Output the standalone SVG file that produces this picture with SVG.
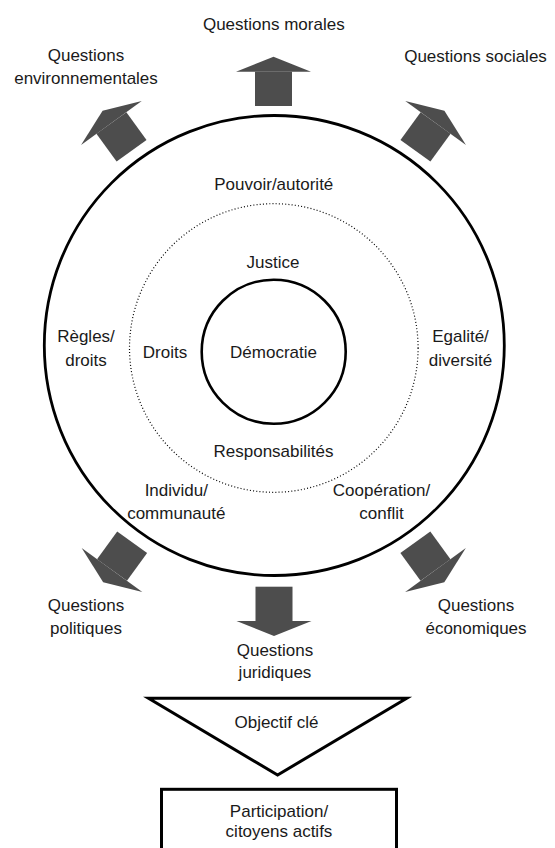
<svg xmlns="http://www.w3.org/2000/svg" xmlns:xlink="http://www.w3.org/1999/xlink" width="555" height="848" viewBox="0 0 555 848">
<style>
  text { font-family: "Liberation Sans", Arial, sans-serif; font-size: 17px; fill: #1a1a1a; text-anchor: middle; }
  .ring { fill: none; stroke: #000; }
  .arrow-head, .arrow-shaft { fill: #4d4d4d; }
  .frame { fill: #fff; stroke: #000; stroke-width: 3; }
</style>
<defs>
  <g id="arrow">
    <polygon class="arrow-head" points="-37.5,0 37.5,0 0,-15"/>
    <rect class="arrow-shaft" x="-18.5" y="0" width="37" height="34.3"/>
  </g>
</defs>
<rect width="555" height="848" fill="#fff"/>

<g id="rings">
  <circle id="outer-ring" class="ring" cx="274.3" cy="345.5" r="230" stroke-width="2.8"/>
  <circle id="middle-ring" class="ring" cx="273.8" cy="348" r="144.3" stroke-width="1.2" stroke-dasharray="1 2.2" stroke="#333"/>
  <circle id="inner-ring" class="ring" cx="273.7" cy="351.7" r="72" stroke-width="2.6"/>
</g>

<g id="connectors">
  <use xlink:href="#arrow" href="#arrow" transform="translate(273.5,71.7)"/>
  <use xlink:href="#arrow" href="#arrow" transform="translate(111.4,123) rotate(-36)"/>
  <use xlink:href="#arrow" href="#arrow" transform="translate(435.6,123) rotate(36)"/>
  <use xlink:href="#arrow" href="#arrow" transform="translate(274,621) rotate(180)"/>
  <use xlink:href="#arrow" href="#arrow" transform="translate(112,570) rotate(-144)"/>
  <use xlink:href="#arrow" href="#arrow" transform="translate(435.5,570) rotate(144)"/>
</g>

<g id="n-morales"><text x="273.8" y="30">Questions morales</text></g>
<g id="n-environnementales"><text x="86" y="60.5">Questions</text><text x="86" y="84">environnementales</text></g>
<g id="n-sociales"><text x="475.5" y="61.5">Questions sociales</text></g>
<g id="n-pouvoir"><text x="273.8" y="190">Pouvoir/autorité</text></g>
<g id="n-justice"><text x="273" y="268">Justice</text></g>
<g id="n-regles"><text x="86" y="342.3">Règles/</text><text x="86" y="366">droits</text></g>
<g id="n-droits"><text x="165" y="358.3">Droits</text></g>
<g id="n-democratie"><text x="273.5" y="358.3">Démocratie</text></g>
<g id="n-egalite"><text x="460.5" y="342.3">Egalité/</text><text x="460.5" y="366">diversité</text></g>
<g id="n-responsabilites"><text x="273.5" y="456.7">Responsabilités</text></g>
<g id="n-individu"><text x="176.3" y="496">Individu/</text><text x="176.3" y="519.3">communauté</text></g>
<g id="n-cooperation"><text x="381.5" y="496">Coopération/</text><text x="381.5" y="519.3">conflit</text></g>
<g id="n-politiques"><text x="86" y="610.7">Questions</text><text x="86" y="634.3">politiques</text></g>
<g id="n-economiques"><text x="476" y="610.7">Questions</text><text x="476" y="634.3">économiques</text></g>
<g id="n-juridiques"><text x="275" y="656">Questions</text><text x="275" y="678">juridiques</text></g>

<g id="n-objectif">
  <polygon class="frame" points="148.5,698.3 406.7,698.3 277.6,775"/>
  <text x="276.5" y="728.3">Objectif clé</text>
</g>
<g id="n-participation">
  <rect class="frame" x="161.5" y="789.3" width="235" height="100"/>
  <text x="279" y="816.7">Participation/</text>
  <text x="279" y="836.5">citoyens actifs</text>
</g>
</svg>
